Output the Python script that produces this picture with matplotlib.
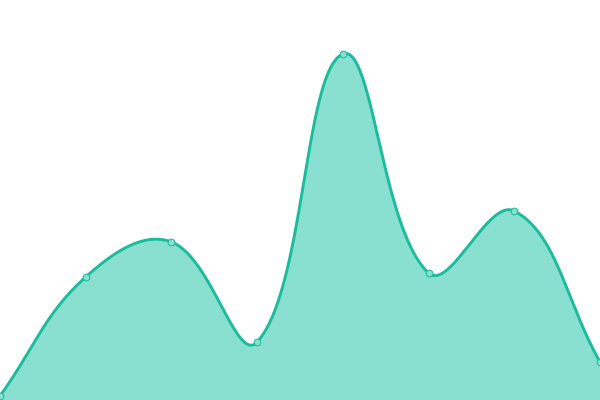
import numpy as np
import matplotlib
matplotlib.use("Agg")
import matplotlib.pyplot as plt

categories = ["A", "B", "C", "D", "E", "F", "G", "H"]
values = [4, 123, 158, 58, 346, 127, 189, 38]

line_color = "#1abc9c"
fill_color = "#8ae0d0"
tension = 0.4


def spline_controls(pts, t, bounds):
    """Chart.js-style splineCurve control points, capped to the chart area."""
    n = len(pts)
    prev_c, next_c = [], []
    for i in range(n):
        p1 = pts[i]
        p0 = pts[i - 1] if i > 0 else p1
        p2 = pts[i + 1] if i < n - 1 else p1
        d01 = np.hypot(*(p1 - p0))
        d12 = np.hypot(*(p2 - p1))
        tot = d01 + d12
        s01 = d01 / tot if tot > 0 else 0.0
        s12 = d12 / tot if tot > 0 else 0.0
        fa, fb = t * s01, t * s12
        pc = p1 - fa * (p2 - p0)
        nc = p1 + fb * (p2 - p0)
        (x0, x1), (y0, y1) = bounds
        pc = np.array([np.clip(pc[0], x0, x1), np.clip(pc[1], y0, y1)])
        nc = np.array([np.clip(nc[0], x0, x1), np.clip(nc[1], y0, y1)])
        prev_c.append(pc)
        next_c.append(nc)
    return prev_c, next_c


def bezier_path(pts, prev_c, next_c, n=60):
    t = np.linspace(0, 1, n)[:, None]
    out = [pts[:1]]
    for i in range(len(pts) - 1):
        p1, p2 = pts[i], pts[i + 1]
        c1, c2 = next_c[i], prev_c[i + 1]
        seg = ((1 - t) ** 3) * p1 + 3 * ((1 - t) ** 2) * t * c1 \
            + 3 * (1 - t) * t ** 2 * c2 + t ** 3 * p2
        out.append(seg[1:])
    return np.vstack(out)


x = np.arange(len(categories))

fig = plt.figure(figsize=(6, 4), dpi=100)
ax = fig.add_axes([0, 0, 1, 1])
ax.set_xlim(0, len(categories) - 1)
ax.set_ylim(0, 400)
ax.axis("off")

disp = ax.transData.transform(np.column_stack([x, values]))
bb = ax.bbox
prev_c, next_c = spline_controls(disp, tension, ((bb.x0, bb.x1), (bb.y0, bb.y1)))
curve_disp = bezier_path(disp, prev_c, next_c)
curve = ax.transData.inverted().transform(curve_disp)
sx, sy = curve[:, 0], curve[:, 1]

ax.fill_between(sx, sy, 0, color=fill_color, linewidth=0, zorder=1)
ax.plot(sx, sy, color=line_color, linewidth=2.1, zorder=2, solid_capstyle="round")
ax.plot(x, values, linestyle="none", marker="o", markersize=4.8,
        markerfacecolor=fill_color, markeredgecolor=line_color,
        markeredgewidth=0.75, zorder=3, clip_on=True)
fig.savefig("out.png", dpi=100)
